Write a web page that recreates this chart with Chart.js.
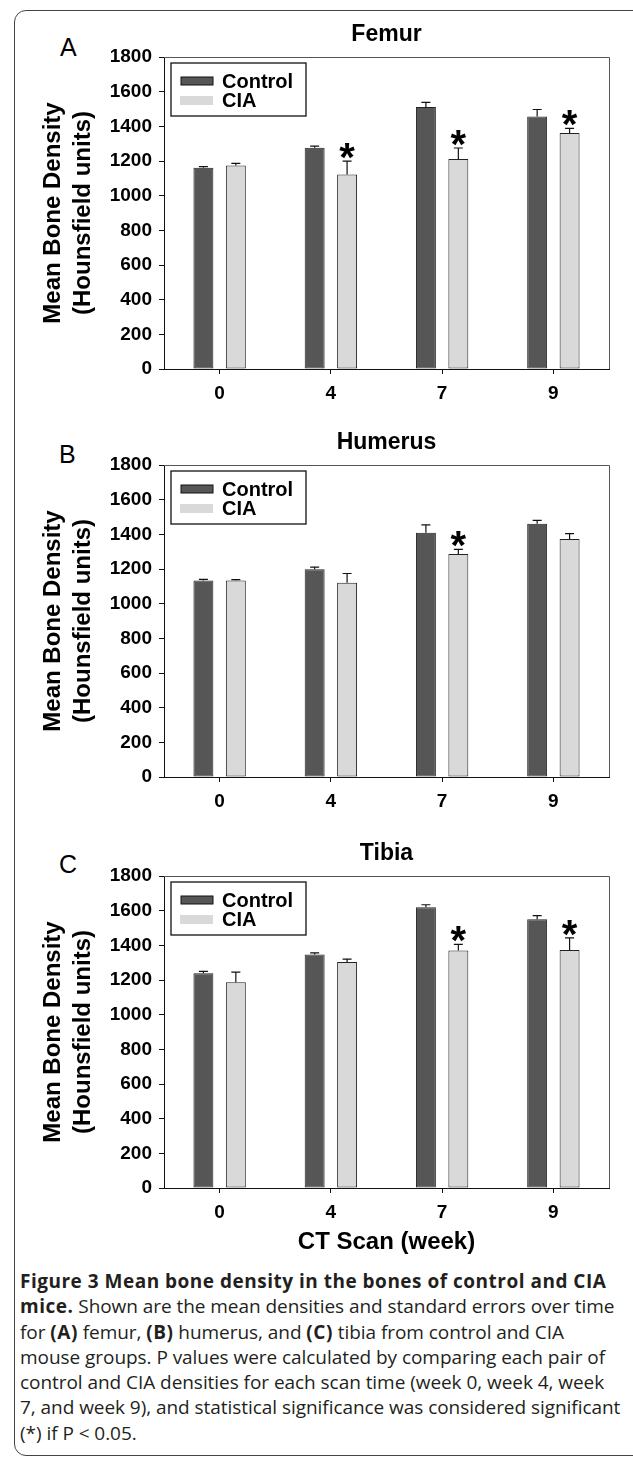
<!DOCTYPE html>
<html>
<head>
<meta charset="utf-8">
<script src="https://cdn.jsdelivr.net/npm/chart.js@4"></script>
<style>
  body { margin: 0; background: #fff; width: 633px; height: 1458px; position: relative; overflow: hidden; }
  .frame { position: absolute; left: 14px; top: 10px; width: 720px; height: 1444px; border: 1.5px solid #444; border-radius: 12px; }
  canvas { position: absolute; left: 0; }
  .letter { position: absolute; font-family: "Liberation Sans", Arial, sans-serif; font-size: 25px; line-height: 1; color: #000; }
  .caption { position: absolute; left: 20px; top: 1269px; font-family: "Open Sans", sans-serif; font-size: 19px; line-height: 25.3px; color: #231f20; white-space: nowrap; letter-spacing: -0.05px; }
  .caption b { font-weight: 700; letter-spacing: 0.5px; }
</style>
</head>
<body>
<div class="frame"></div>
<div class="letter" style="left:60px; top:35px;">A</div>
<div class="letter" style="left:59px; top:442px;">B</div>
<div class="letter" style="left:59px; top:852px;">C</div>
<canvas id="femur" width="633" height="400" style="top:10px"></canvas>
<canvas id="humerus" width="633" height="400" style="top:418px"></canvas>
<canvas id="tibia" width="633" height="432" style="top:829px"></canvas>
<div class="caption">
<b>Figure 3 Mean bone density in the bones of control and CIA</b><br>
<b>mice.</b> Shown are the mean densities and standard errors over time<br>
for <b>(A)</b> femur, <b>(B)</b> humerus, and <b>(C)</b> tibia from control and CIA<br>
mouse groups. P values were calculated by comparing each pair of<br>
control and CIA densities for each scan time (week 0, week 4, week<br>
7, and week 9), and statistical significance was considered significant<br>
(*) if P &lt; 0.05.
</div>
<script>
// scan weeks
var weeks = ['0', '4', '7', '9'];

// femur
var femurControl = [1161, 1276, 1511, 1457];
var femurControlErr = [6, 10, 27, 40];
var femurCIA = [1174, 1122, 1211, 1361];
var femurCIAErr = [12, 77, 64, 27];
var femurSig = [false, true, true, true];

// humerus
var humerusControl = [1134, 1198, 1409, 1461];
var humerusControlErr = [6, 13, 46, 19];
var humerusCIA = [1134, 1120, 1286, 1373];
var humerusCIAErr = [5, 54, 27, 31];
var humerusSig = [false, false, true, false];

// tibia
var tibiaControl = [1239, 1347, 1619, 1550];
var tibiaControlErr = [11, 10, 15, 21];
var tibiaCIA = [1187, 1304, 1370, 1373];
var tibiaCIAErr = [58, 16, 36, 70];
var tibiaSig = [false, false, true, true];

var yMin = 0, yMax = 1800, yStep = 200;
var seriesNames = ['Control', 'CIA'];

var FONT = '"Liberation Sans", Arial, sans-serif';
Chart.defaults.font.family = FONT;
Chart.defaults.color = '#000';

function makeChart(id, title, control, controlErr, cia, ciaErr, sig, xTitle) {
  var errs = [controlErr, ciaErr];

  var extras = {
    id: 'extras_' + id,
    afterDatasetsDraw: function (chart) {
      var ctx = chart.ctx;
      var y = chart.scales.y;
      ctx.save();
      // error bars (upper only)
      chart.data.datasets.forEach(function (ds, di) {
        var meta = chart.getDatasetMeta(di);
        meta.data.forEach(function (bar, i) {
          var top = y.getPixelForValue(ds.data[i] + errs[di][i]);
          ctx.strokeStyle = '#111';
          ctx.lineWidth = 1.2;
          ctx.beginPath();
          ctx.moveTo(bar.x, bar.y);
          ctx.lineTo(bar.x, top);
          ctx.moveTo(bar.x - 4.5, top);
          ctx.lineTo(bar.x + 4.5, top);
          ctx.stroke();
          if (di === 1 && sig[i]) {
            ctx.fillStyle = '#000';
            ctx.font = 'bold 40px ' + FONT;
            ctx.textAlign = 'center';
            ctx.textBaseline = 'alphabetic';
            ctx.fillText('*', bar.x, top + 10);
          }
        });
      });
      ctx.restore();
    },
    afterDraw: function (chart) {
      var ctx = chart.ctx;
      var a = chart.chartArea;
      ctx.save();
      // top and right frame
      ctx.strokeStyle = '#555';
      ctx.lineWidth = 1;
      ctx.beginPath();
      ctx.moveTo(a.left, a.top + 0.5);
      ctx.lineTo(a.right + 0.5, a.top + 0.5);
      ctx.lineTo(a.right + 0.5, a.bottom);
      ctx.stroke();
      // legend box
      var lx = a.left + 7, ly = a.top + 6;
      ctx.strokeStyle = '#111';
      ctx.lineWidth = 1.3;
      ctx.strokeRect(lx, ly, 135, 53);
      var cols = chart.data.datasets.map(function (d) { return d.backgroundColor; });
      ctx.fillStyle = cols[0];
      ctx.fillRect(lx + 10, ly + 14, 32, 8);
      ctx.strokeStyle = '#111';
      ctx.lineWidth = 1;
      ctx.strokeRect(lx + 10, ly + 14, 32, 8);
      ctx.fillStyle = cols[1];
      ctx.fillRect(lx + 9, ly + 33, 33, 9);
      ctx.fillStyle = '#000';
      ctx.font = 'bold 20px ' + FONT;
      ctx.textAlign = 'left';
      ctx.textBaseline = 'middle';
      ctx.fillText(chart.data.datasets[0].label, lx + 51, ly + 19);
      ctx.fillText(chart.data.datasets[1].label, lx + 51, ly + 38);
      ctx.restore();
    }
  };

  var xScale = {
    offset: true,
    grid: { display: true, drawOnChartArea: false, offset: false, tickLength: 5, color: '#111' },
    border: { display: true, color: '#111', width: 1 },
    ticks: { font: { size: 19, weight: 'bold' }, padding: 8, color: '#000' },
    afterFit: function (s) { s.height = xTitle ? 73 : 41; }
  };
  if (xTitle) {
    xScale.title = { display: true, text: xTitle, font: { size: 24, weight: 'bold' }, padding: { top: 0, bottom: 4 }, color: '#000' };
  }

  return new Chart(document.getElementById(id), {
    type: 'bar',
    data: {
      labels: weeks,
      datasets: [{
        label: seriesNames[0],
        data: control,
        backgroundColor: '#565656',
        borderColor: '#222',
        borderWidth: 1,
        borderSkipped: false,
        barPercentage: 0.615,
        categoryPercentage: 0.583
      }, {
        label: seriesNames[1],
        data: cia,
        backgroundColor: '#d9d9d9',
        borderColor: '#222',
        borderWidth: 1,
        borderSkipped: false,
        barPercentage: 0.615,
        categoryPercentage: 0.583
      }]
    },
    options: {
      responsive: false,
      animation: false,
      devicePixelRatio: 1,
      layout: { padding: { left: 0, right: 24, top: 0, bottom: 0 } },
      plugins: {
        legend: { display: false },
        tooltip: { enabled: false },
        title: {
          display: true,
          text: title,
          fullSize: false,
          font: { size: 23, weight: 'bold' },
          color: '#000',
          padding: { top: 11.2, bottom: 8.2 }
        }
      },
      scales: {
        x: xScale,
        y: {
          min: yMin,
          max: yMax,
          ticks: {
            stepSize: yStep,
            font: { size: 19, weight: 'bold' },
            padding: 7,
            color: '#000',
            callback: function (v) { return String(v); }
          },
          grid: { display: true, drawOnChartArea: false, tickLength: 5, color: '#111' },
          border: { display: true, color: '#111', width: 1 },
          title: {
            display: true,
            text: ['Mean Bone Density', '(Hounsfield units)'],
            font: { size: 24, weight: 'bold', lineHeight: 1.25 },
            padding: { top: 38, bottom: 0 },
            color: '#000'
          },
          afterFit: function (s) { s.width = 164; }
        }
      }
    },
    plugins: [extras]
  });
}

makeChart('femur', 'Femur', femurControl, femurControlErr, femurCIA, femurCIAErr, femurSig);
makeChart('humerus', 'Humerus', humerusControl, humerusControlErr, humerusCIA, humerusCIAErr, humerusSig);
makeChart('tibia', 'Tibia', tibiaControl, tibiaControlErr, tibiaCIA, tibiaCIAErr, tibiaSig, 'CT Scan (week)');
</script>
</body>
</html>
